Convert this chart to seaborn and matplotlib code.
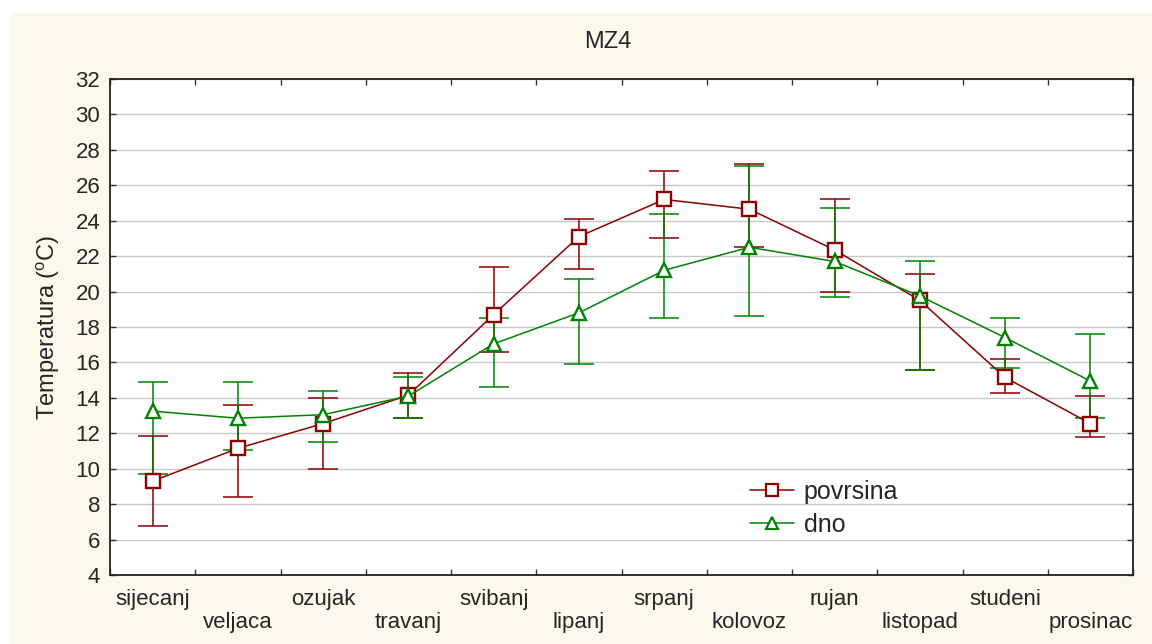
import numpy as np
import pandas as pd
import matplotlib
matplotlib.use("Agg")
import matplotlib.pyplot as plt
import seaborn as sns
from matplotlib.patches import Rectangle
from matplotlib.lines import Line2D

months = ["sijecanj", "veljaca", "ozujak", "travanj", "svibanj", "lipanj",
          "srpanj", "kolovoz", "rujan", "listopad", "studeni", "prosinac"]

povrsina_mean = [9.3, 11.15, 12.55, 14.15, 18.7, 23.1, 25.2, 24.65, 22.35, 19.5, 15.15, 12.55]
povrsina_low = [6.75, 8.4, 10.0, 12.85, 16.6, 21.3, 23.0, 22.5, 20.0, 15.6, 14.3, 11.8]
povrsina_high = [11.85, 13.6, 14.0, 15.4, 21.4, 24.1, 26.8, 27.2, 25.2, 21.0, 16.2, 14.1]

dno_mean = [13.25, 12.85, 13.05, 14.1, 17.05, 18.8, 21.2, 22.5, 21.7, 19.75, 17.4, 14.95]
dno_low = [9.7, 11.05, 11.5, 12.85, 14.6, 15.9, 18.5, 18.6, 19.7, 15.6, 15.7, 12.85]
dno_high = [14.9, 14.9, 14.4, 15.15, 18.5, 20.7, 24.4, 27.1, 24.7, 21.7, 18.5, 17.6]

series_names = ["povrsina", "dno"]
series_colors = {"povrsina": "#8c0000", "dno": "#008200"}
series_markers = {"povrsina": "s", "dno": "^"}

sns.set_theme(style="white")
plt.rcParams["font.family"] = ["Liberation Sans", "DejaVu Sans"]
plt.rcParams["mathtext.fontset"] = "custom"
plt.rcParams["mathtext.rm"] = "Liberation Sans"
plt.rcParams["mathtext.it"] = "Liberation Sans"

x = np.arange(len(months))
df = pd.concat([
    pd.DataFrame({"mjesec": x, "temp": povrsina_mean, "serija": "povrsina"}),
    pd.DataFrame({"mjesec": x, "temp": dno_mean, "serija": "dno"}),
])

fig = plt.figure(figsize=(11.52, 6.44), dpi=100, facecolor="white")
fig.patches.append(Rectangle((10 / 1152, 0), 1, 1 - 13 / 644, transform=fig.transFigure,
                             facecolor="#fdf8ee", edgecolor="none", zorder=-10))
ax = fig.add_axes([110 / 1152, 1 - 575 / 644, (1133 - 110) / 1152, (575 - 79) / 644])
ax.set_facecolor("white")

# whiskers with caps
for name, mean, lo, hi in [("povrsina", povrsina_mean, povrsina_low, povrsina_high),
                           ("dno", dno_mean, dno_low, dno_high)]:
    mean = np.array(mean)
    yerr = np.vstack([mean - np.array(lo), np.array(hi) - mean])
    c = series_colors[name]
    _, caps, bars = ax.errorbar(x, mean, yerr=yerr, fmt="none", ecolor=c,
                                elinewidth=1.1, capsize=10.5, capthick=1.1, zorder=3)
    for cap in caps:
        cap.set_color(c)
        cap.set_markeredgecolor(c)

n_before = len(ax.lines)
sns.lineplot(data=df, x="mjesec", y="temp", hue="serija", style="serija",
             hue_order=series_names, style_order=series_names,
             palette=series_colors, markers=series_markers, dashes=False,
             linewidth=1.1, markersize=9.5, markerfacecolor="white",
             markeredgewidth=1.7, ax=ax, legend=False, zorder=4)
for ln in ax.lines[n_before:]:
    ln.set_markeredgecolor(ln.get_color())

ax.set_xlim(-0.5, 11.5)
ax.set_ylim(4, 32)
ax.set_yticks(np.arange(4, 33, 2))
ax.yaxis.grid(True, color="#c8c8c8", linewidth=1.0)
ax.set_axisbelow(True)

# month labels at centres, alternating rows; boundary ticks between months
ax.set_xticks(x, [m if i % 2 == 0 else "\n" + m for i, m in enumerate(months)])
ax.set_xticks(np.arange(-0.5, 12, 1), minor=True)
ax.tick_params(axis="x", which="major", length=0, labelsize=16, pad=10)
ax.tick_params(axis="x", which="minor", direction="in", length=4, width=1,
               top=True, bottom=True, color="#333333")
ax.tick_params(axis="y", which="major", direction="in", length=4, width=1,
               left=True, right=True, labelsize=16, pad=7, color="#333333")
for lab in ax.get_xticklabels():
    lab.set_linespacing(1.15)
for s in ax.spines.values():
    s.set_color("#222222")
    s.set_linewidth(1.3)

ax.set_xlabel("")
ax.set_ylabel("Temperatura ($^\\mathrm{o}$C)", fontsize=17, labelpad=10)
ax.set_title("MZ4", fontsize=17, x=0.487, pad=22)

handles = [Line2D([], [], color=series_colors[n], marker=series_markers[n],
                  markerfacecolor="white", markeredgecolor=series_colors[n],
                  markersize=8.5, markeredgewidth=1.6, linewidth=1.1)
           for n in series_names]
ax.legend(handles, series_names, loc="upper left", bbox_to_anchor=(0.616, 0.212),
          frameon=False, fontsize=18, handlelength=1.75, handletextpad=0.4,
          labelspacing=0.35, borderaxespad=0)

fig.savefig("out.png", dpi=100, facecolor=fig.get_facecolor())
